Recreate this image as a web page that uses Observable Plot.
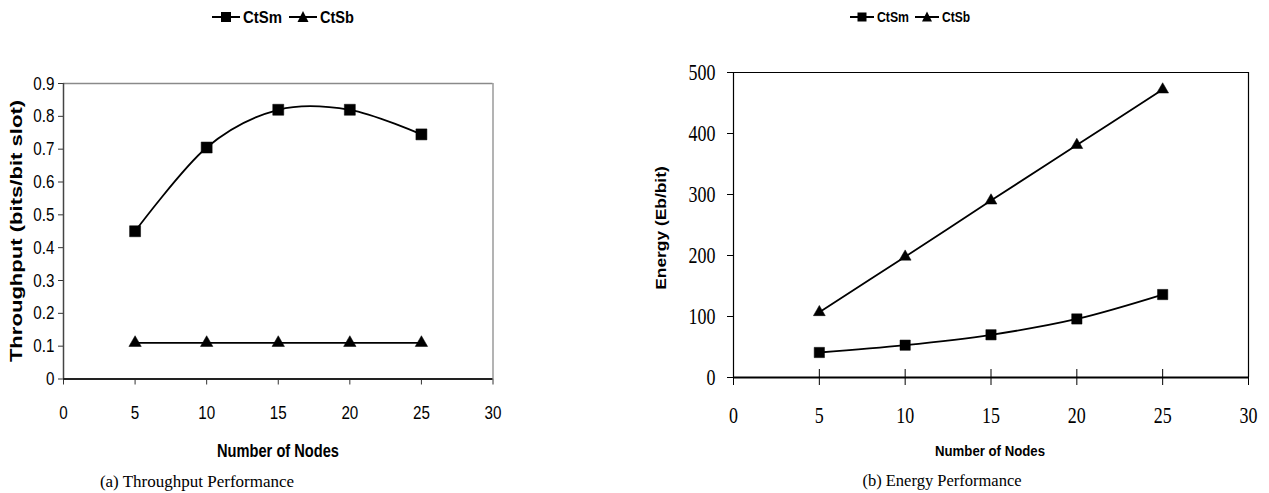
<!DOCTYPE html>
<html><head><meta charset="utf-8">
<script src="https://cdn.jsdelivr.net/npm/d3@7"></script>
<script src="https://cdn.jsdelivr.net/npm/@observablehq/plot@0.6"></script>
<style>
body{margin:0;background:#fff;}
#root{position:relative;width:1269px;height:493px;overflow:hidden;background:#fff;}
.abs{position:absolute;white-space:nowrap;line-height:1;color:#000;}
.plot{position:absolute;}
</style></head><body><div id="root"></div>
<script>
// ---- data ----
const nodes = [5, 10, 15, 20, 25];
const seriesNames = ["CtSm", "CtSb"];
const throughputCtSm = [0.45, 0.705, 0.82, 0.82, 0.745];
const throughputCtSb = [0.11, 0.11, 0.11, 0.11, 0.11];
const energyCtSm = [41, 53, 70, 96, 136];
const energyCtSb = [107, 198, 290, 381, 472];
const xTicks = [0, 5, 10, 15, 20, 25, 30];
const throughputTicks = [0, 0.1, 0.2, 0.3, 0.4, 0.5, 0.6, 0.7, 0.8, 0.9];
const energyTicks = [0, 100, 200, 300, 400, 500];
const xTitle = "Number of Nodes";
const yTitleA = "Throughput (bits/bit slot)";
const yTitleB = "Energy (Eb/bit)";
const captionA = "(a) Throughput Performance";
const captionB = "(b) Energy Performance";

const sans = '"Liberation Sans",Arial,sans-serif';
const serif = '"Liberation Serif","Times New Roman",serif';
const symbols = {CtSm: "square", CtSb: "triangle"};
const NS = "http://www.w3.org/2000/svg";

const root = document.getElementById("root");

function addText(txt, x, y, font, size, weight, targetW, rotate) {
  const d = document.createElement("div");
  d.className = "abs";
  d.textContent = txt;
  d.style.left = x + "px"; d.style.top = y + "px";
  d.style.fontFamily = font; d.style.fontSize = size + "px"; d.style.fontWeight = weight || "normal";
  root.appendChild(d);
  const w = d.offsetWidth;
  const sx = targetW ? targetW / w : 1;
  d.style.transform = `translate(-50%,-50%)${rotate ? " rotate(-90deg)" : ""} scaleX(${sx})`;
  return d;
}

function addLegend(left, cy, size, lineLen, mk, textW, gap) {
  const svg = document.createElementNS(NS, "svg");
  const h = 24;
  let x = 0;
  seriesNames.forEach((s, i) => {
    const y = h / 2;
    const ln = document.createElementNS(NS, "line");
    ln.setAttribute("x1", x); ln.setAttribute("x2", x + lineLen); ln.setAttribute("y1", y); ln.setAttribute("y2", y);
    ln.setAttribute("stroke", "#000"); ln.setAttribute("stroke-width", 2);
    svg.appendChild(ln);
    const m = x + lineLen / 2;
    let shape;
    if (symbols[s] === "square") {
      shape = document.createElementNS(NS, "rect");
      shape.setAttribute("x", m - mk / 2); shape.setAttribute("y", y - mk / 2);
      shape.setAttribute("width", mk); shape.setAttribute("height", mk);
    } else {
      shape = document.createElementNS(NS, "path");
      shape.setAttribute("d", `M${m},${y - mk / 2 - 1}L${m + mk / 2 + 0.5},${y + mk / 2}L${m - mk / 2 - 0.5},${y + mk / 2}Z`);
    }
    shape.setAttribute("fill", "#000");
    svg.appendChild(shape);
    x += lineLen + 3;
    const t = document.createElementNS(NS, "text");
    t.setAttribute("x", x); t.setAttribute("y", y);
    t.setAttribute("dy", "0.36em");
    t.setAttribute("font-family", sans); t.setAttribute("font-size", size); t.setAttribute("font-weight", "bold");
    t.setAttribute("textLength", textW[i]); t.setAttribute("lengthAdjust", "spacingAndGlyphs");
    t.textContent = s;
    svg.appendChild(t);
    x += textW[i] + gap;
  });
  svg.setAttribute("width", x); svg.setAttribute("height", h);
  svg.style.position = "absolute"; svg.style.left = left + "px"; svg.style.top = (cy - h / 2) + "px";
  svg.style.overflow = "visible";
  root.appendChild(svg);
}

function squeeze(svg, factor) {
  svg.querySelectorAll('[aria-label$="tick label"] text').forEach(t => {
    const L = t.getComputedTextLength();
    t.setAttribute("textLength", L * factor);
    t.setAttribute("lengthAdjust", "spacingAndGlyphs");
  });
}

function seriesMarks(data, rSquare, rTri) {
  return seriesNames.map(s => Plot.dot(data.filter(d => d.s === s), {
    x: "x", y: "y", symbol: symbols[s], r: s === "CtSm" ? rSquare : rTri,
    fill: "#000", stroke: "#000", strokeWidth: 0.5
  }));
}

// ---- panel (a) ----
const tp = nodes.flatMap((n, i) => [
  {x: n, y: throughputCtSm[i], s: "CtSm"},
  {x: n, y: throughputCtSb[i], s: "CtSb"}
]);
const plotA = Plot.plot({
  width: 520, height: 415,
  marginLeft: 63, marginRight: 27.5, marginTop: 33, marginBottom: 86.5,
  x: {domain: [0, 30]},
  y: {domain: [0, 0.9]},
  style: {fontFamily: sans, fontSize: "19px", color: "#000", background: "transparent", overflow: "visible"},
  marks: [
    Plot.ruleY([0.9], {stroke: "#8a8a8a", strokeWidth: 1.3}),
    Plot.ruleX([30], {stroke: "#8a8a8a", strokeWidth: 1.3}),
    Plot.axisY({ticks: throughputTicks, tickSize: 5, tickPadding: 4, label: null, fontSize: 19,
      tickFormat: d => d === 0 ? "0" : d3.format(".1f")(d), stroke: "#333"}),
    Plot.axisX({ticks: xTicks, tickSize: 6, tickPadding: 20, label: null, fontSize: 19, stroke: "#333"}),
    Plot.ruleX([0], {stroke: "#444", strokeWidth: 1.5}),
    Plot.ruleY([0], {stroke: "#222", strokeWidth: 2}),
    Plot.line(tp, {x: "x", y: "y", z: "s", curve: "cardinal", stroke: "#000", strokeWidth: 1.8}),
    ...seriesMarks(tp, 6.2, 4.6)
  ]
});
plotA.classList.add("plot");
plotA.style.left = "0px"; plotA.style.top = "50px";
root.appendChild(plotA);
squeeze(plotA, 0.8);

// ---- panel (b) ----
const en = nodes.flatMap((n, i) => [
  {x: n, y: energyCtSm[i], s: "CtSm"},
  {x: n, y: energyCtSb[i], s: "CtSb"}
]);
const plotB = Plot.plot({
  width: 629, height: 425,
  marginLeft: 93, marginRight: 21, marginTop: 32, marginBottom: 88,
  x: {domain: [0, 30]},
  y: {domain: [0, 500]},
  style: {fontFamily: serif, fontSize: "23px", color: "#000", background: "transparent", overflow: "visible"},
  marks: [
    Plot.ruleY([500], {stroke: "#000", strokeWidth: 1.2}),
    Plot.ruleX([30], {stroke: "#000", strokeWidth: 1.2}),
    Plot.axisY({ticks: energyTicks, tickSize: 6, tickPadding: 12, label: null, fontSize: 23, stroke: "#000"}),
    Plot.axisX({ticks: xTicks, tickSize: 0, tickPadding: 29, label: null, fontSize: 23}),
    Plot.ruleX(xTicks, {x: d => d, y1: 0, y2: 0, insetTop: 8, insetBottom: 8, stroke: "#000", strokeWidth: 1}),
    Plot.ruleX([0], {stroke: "#000", strokeWidth: 1.2}),
    Plot.ruleY([0], {stroke: "#000", strokeWidth: 2}),
    Plot.line(en, {x: "x", y: "y", z: "s", curve: "cardinal", stroke: "#000", strokeWidth: 1.8}),
    ...seriesMarks(en, 5.8, 4.4)
  ]
});
plotB.classList.add("plot");
plotB.style.left = "640px"; plotB.style.top = "40px";
root.appendChild(plotB);
squeeze(plotB, 0.78);

// ---- texts ----
addLegend(212, 17, 17, 28, 10, [39, 34], 7);
addLegend(850, 17, 14, 24, 9, [32, 28], 6);
addText(yTitleA, 17, 231, sans, 16, "bold", 262, true);
addText(xTitle, 278, 451, sans, 18, "bold", 122);
addText(captionA, 197, 481, serif, 17);
addText(yTitleB, 661, 228, sans, 14, "bold", 124, true);
addText(xTitle, 990, 450, sans, 15, "bold", 110);
addText(captionB, 942, 481, serif, 16.5);
</script></body></html>
